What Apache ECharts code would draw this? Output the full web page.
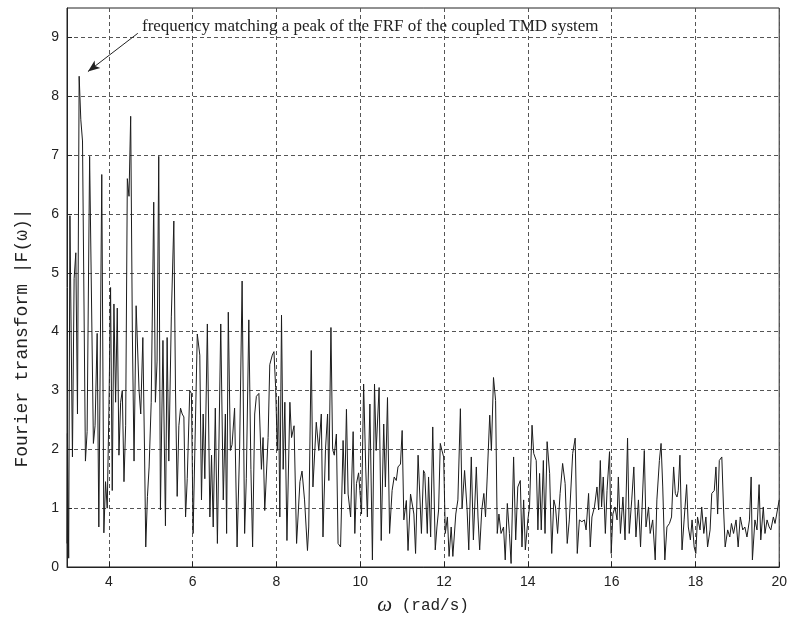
<!DOCTYPE html>
<html><head><meta charset="utf-8">
<script src="https://cdn.jsdelivr.net/npm/echarts@6/dist/echarts.min.js"></script>
<style>html,body{margin:0;padding:0;background:#fff}#c{width:790px;height:626px}</style>
</head><body><div id="c"></div>
<script>
// angular frequency (rad/s)
const omega = [
  3.0,3.01,3.04,3.07,3.13,3.17,3.21,3.25,3.29,3.33,
  3.37,3.44,3.48,3.54,3.63,3.67,3.72,3.76,3.83,3.88,
  3.92,3.96,4.0,4.04,4.08,4.12,4.16,4.2,4.24,4.28,
  4.32,4.36,4.4,4.44,4.48,4.52,4.56,4.6,4.65,4.72,
  4.76,4.81,4.85,4.88,4.92,4.96,5.01,5.07,5.11,5.15,
  5.19,5.23,5.29,5.35,5.39,5.43,5.49,5.55,5.59,5.63,
  5.67,5.71,5.75,5.79,5.83,5.87,
  5.93,5.97,6.01,6.11,6.17,6.21,6.25,6.29,6.35,6.41,
  6.45,6.49,6.54,6.59,6.67,6.73,6.78,6.81,6.85,6.9,
  6.94,7.0,7.06,7.12,7.18,7.24,7.28,7.34,7.39,7.43,
  7.48,7.52,7.58,7.64,7.68,7.72,7.8,7.84,7.9,7.94,
  7.98,8.02,8.05,8.08,8.12,8.16,8.2,8.25,8.32,8.36,
  8.42,8.48,8.56,8.61,8.67,
  8.74,8.77,8.83,8.87,8.95,9.01,9.07,9.11,9.17,9.22,
  9.25,9.3,9.34,9.38,9.43,9.47,9.53,9.59,9.63,9.67,
  9.71,9.77,9.83,9.87,9.91,9.96,9.99,10.03,10.08,10.13,
  10.17,10.23,10.29,10.34,10.38,10.45,10.5,10.56,10.6,10.65,
  10.7,10.76,10.81,10.86,10.9,10.96,11.0,11.04,11.1,11.14,
  11.2,11.24,11.28,11.32,11.38,11.42,11.46,11.51,
  11.54,11.6,11.63,11.68,11.73,11.79,11.83,11.87,11.91,11.95,
  11.99,12.03,12.08,12.12,12.17,12.21,12.28,12.33,12.39,12.43,
  12.49,12.55,12.59,12.65,12.7,12.77,12.81,12.85,12.9,12.95,
  12.99,13.03,13.09,13.13,13.18,13.23,13.27,13.31,13.36,13.42,
  13.46,13.51,13.56,13.6,13.66,13.71,13.76,13.82,13.86,13.9,
  13.94,14.0,14.04,14.1,14.14,14.2,14.24,14.28,14.32,14.37,
  14.41,14.46,
  14.52,14.57,14.62,14.66,14.71,14.77,14.83,14.89,14.94,14.99,
  15.07,15.13,15.18,15.23,15.29,15.35,15.39,15.45,15.49,15.53,
  15.59,15.65,15.69,15.73,15.76,15.8,15.85,15.89,15.95,15.99,
  16.03,16.08,16.13,16.16,16.21,16.27,16.32,16.38,16.42,16.48,
  16.53,16.58,16.64,16.69,16.78,16.82,16.88,16.92,16.98,17.04,
  17.08,17.14,17.18,17.22,17.27,17.32,17.38,
  17.43,17.48,17.52,17.56,17.59,17.63,17.68,17.73,17.79,17.83,
  17.88,17.92,17.97,18.01,18.05,18.11,18.15,18.2,18.25,18.29,
  18.35,18.39,18.45,18.49,18.53,18.57,18.63,18.67,18.71,18.77,
  18.82,18.86,18.91,18.97,19.02,19.07,19.13,19.18,19.23,19.29,
  19.33,19.36,19.42,19.47,19.52,19.56,19.62,19.66,19.71,19.76,
  19.8,19.86,19.9,19.94,20.0
];
// Fourier transform magnitude |F(omega)|
const amp = [
  0.4,2.27,0.15,5.97,1.87,4.9,5.34,2.6,8.34,7.6,
  7.24,1.8,2.3,6.98,2.1,2.4,3.97,0.68,6.67,0.58,
  1.45,1.0,2.66,4.75,1.3,4.47,2.8,4.4,1.9,2.8,
  3.0,1.45,2.4,6.6,6.3,7.66,4.0,1.8,4.44,3.0,
  2.6,3.9,2.0,0.34,1.2,1.7,2.8,6.2,2.8,3.5,
  6.98,0.97,3.85,0.7,3.9,1.8,4.25,5.88,3.0,1.2,
  2.4,2.7,2.6,2.55,0.85,1.5,
  3.0,2.95,0.57,3.96,3.6,1.14,2.6,1.5,4.13,0.85,
  1.9,0.68,2.7,0.4,4.13,1.14,2.6,0.57,4.33,1.98,
  2.08,2.7,0.34,2.0,4.86,0.57,1.5,4.2,1.66,0.34,
  2.6,2.9,2.95,1.66,2.2,0.96,2.2,3.44,3.6,3.66,
  3.05,1.98,2.9,0.85,4.28,1.66,2.8,0.45,2.8,2.2,
  2.4,0.4,1.45,1.63,1.14,
  0.28,0.68,3.68,1.36,2.46,1.98,2.6,0.51,2.0,2.6,
  1.47,4.07,2.0,1.9,2.26,0.4,0.34,2.15,1.24,2.68,
  1.24,0.85,2.3,0.57,1.42,1.6,1.3,0.9,3.11,1.7,
  0.85,2.77,0.12,3.11,1.98,3.05,0.45,2.43,1.36,2.88,
  0.57,1.3,1.53,1.47,1.7,1.75,2.32,0.8,1.13,0.28,
  1.24,1.24,0.9,0.23,1.9,1.24,0.57,1.64,
  1.59,0.57,1.53,0.51,2.38,0.29,0.68,0.97,2.1,1.98,
  1.87,0.57,0.85,0.18,0.68,0.18,0.9,1.14,2.69,1.0,
  1.64,0.97,0.29,1.87,0.46,1.7,0.85,0.29,0.97,1.25,
  0.85,1.53,2.58,1.98,3.22,2.83,0.57,0.9,0.57,0.68,
  0.12,1.08,0.57,0.06,1.87,0.46,1.36,1.47,0.34,1.14,
  0.29,0.8,1.02,2.41,1.93,1.81,0.63,1.59,0.63,1.81,
  0.57,2.13,
  1.59,0.23,1.14,1.02,0.57,1.25,1.76,1.42,0.4,0.8,
  1.93,2.19,0.23,0.8,0.77,0.8,0.63,1.25,0.34,0.85,
  1.02,1.36,0.97,1.81,1.02,1.53,0.57,1.3,1.96,0.23,
  0.9,1.02,0.8,1.53,0.57,1.19,0.46,2.19,0.57,1.14,
  1.7,0.51,1.14,0.34,1.98,0.68,1.02,0.57,0.8,0.12,
  1.14,1.81,2.1,1.36,0.12,0.68,0.74,
  0.85,1.7,1.25,1.19,1.3,1.9,0.29,0.8,1.4,0.68,
  0.46,0.8,0.34,0.23,0.85,0.63,1.02,0.57,0.85,0.34,
  0.63,1.25,1.3,1.7,0.9,1.81,1.87,1.02,0.34,0.63,
  0.51,0.74,0.57,0.8,0.34,0.85,0.63,0.68,0.51,0.8,
  1.53,0.12,0.8,0.63,1.4,0.46,1.02,0.57,0.8,0.68,
  0.63,0.85,0.74,0.9,1.14
];
const xTicks = [4, 6, 8, 10, 12, 14, 16, 18, 20];
const yTicks = [0, 1, 2, 3, 4, 5, 6, 7, 8, 9];
const xTitle = 'ω';
const xTitleRest = ' (rad/s)';
const yTitle = 'Fourier transform |F(ω)|';
const noteText = 'frequency matching a peak of the FRF of the coupled TMD system';
// annotation anchors in data coordinates
const arrowFrom = [4.69, 9.07];
const arrowTo = [3.5, 8.42];
const notePos = [4.79, 9.19];

if (omega.length !== amp.length) throw new Error('length mismatch ' + omega.length + ' vs ' + amp.length);

const chart = echarts.init(document.getElementById('c'), null, {renderer: 'canvas'});
const seriesData = omega.map((w, i) => [w, amp[i]]);
const gridLine = {show: true, lineStyle: {color: '#555', width: 1, type: [4, 3]}};
const tickFont = {color: '#222', fontSize: 14, fontFamily: 'Liberation Sans, Arial, sans-serif'};

chart.setOption({
  backgroundColor: '#ffffff',
  animation: false,
  grid: {left: 67, right: 10, top: 8, bottom: 59, show: true, borderColor: '#222', borderWidth: 1, backgroundColor: '#fff'},
  xAxis: {
    type: 'value', min: 3, max: 20,
    axisLine: {show: true, onZero: false, lineStyle: {color: '#222'}},
    axisTick: {show: true, inside: true, length: 5, customValues: xTicks, lineStyle: {color: '#222'}},
    axisLabel: Object.assign({customValues: xTicks, margin: 8}, tickFont),
    splitLine: gridLine,
    name: '{w|' + xTitle + '}{r|' + xTitleRest + '}',
    nameLocation: 'middle', nameGap: 28,
    nameTextStyle: {rich: {
      w: {fontFamily: 'Liberation Serif, serif', fontStyle: 'italic', fontSize: 21, color: '#222'},
      r: {fontFamily: 'Liberation Mono, monospace', fontSize: 16, color: '#222'}
    }}
  },
  yAxis: {
    type: 'value', min: 0, max: 9.5,
    axisLine: {show: true, onZero: false, lineStyle: {color: '#222'}},
    axisTick: {show: true, inside: true, length: 5, customValues: yTicks, lineStyle: {color: '#222'}},
    axisLabel: Object.assign({customValues: yTicks, margin: 8}, tickFont),
    splitLine: gridLine
  },
  series: [{
    type: 'line', data: seriesData, showSymbol: false, symbol: 'none',
    lineStyle: {color: '#1c1c1c', width: 1},
    z: 3,
    markLine: {
      silent: true, symbol: ['none', 'arrow'], symbolSize: [7, 12],
      lineStyle: {color: '#222', width: 1, type: 'solid'},
      label: {show: false},
      data: [[{coord: arrowFrom}, {coord: arrowTo}]]
    }
  }]
});

const np = chart.convertToPixel({gridIndex: 0}, notePos);
chart.setOption({
  graphic: [
    {type: 'text', x: np[0], y: np[1], silent: true,
     style: {text: noteText, font: '17px "Liberation Serif", serif', fill: '#222', align: 'left', verticalAlign: 'middle'}},
    {type: 'text', x: 22, y: 338, rotation: Math.PI / 2, silent: true,
     style: {text: yTitle, font: '18px "Liberation Mono", monospace', fill: '#222', align: 'center', verticalAlign: 'middle'}}
  ]
});
</script>
</body></html>
